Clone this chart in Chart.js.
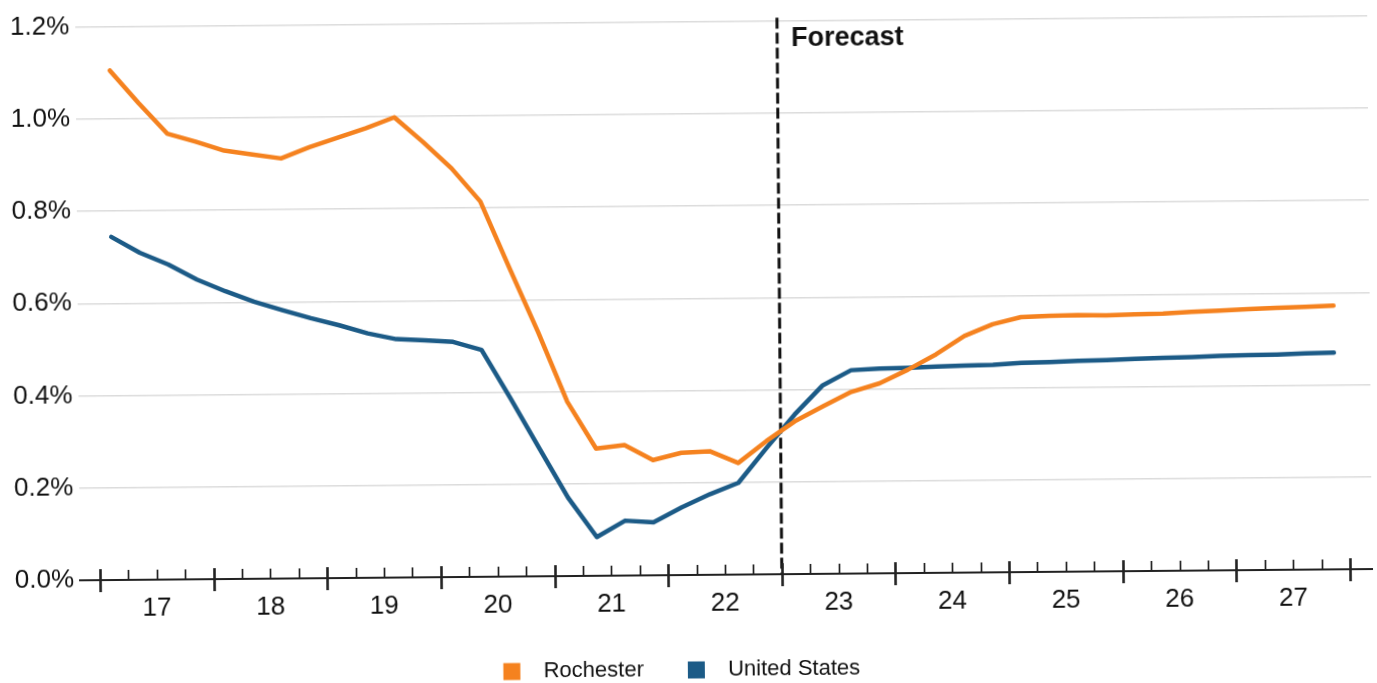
<!DOCTYPE html>
<html>
<head>
<meta charset="utf-8">
<title>Employment growth: Rochester vs United States</title>
<script src="https://cdn.jsdelivr.net/npm/chart.js@4.4.0/dist/chart.umd.min.js"></script>
<style>
  html, body { margin: 0; padding: 0; background: #ffffff; overflow: hidden; }
  #wrap { width: 1377px; height: 683px; transform: rotate(-0.5deg); transform-origin: 50% 50%; }
  canvas { display: block; }
</style>
</head>
<body>
<div id="wrap"><canvas id="chart" width="1377" height="683"></canvas></div>
<script>
// Quarterly series, 2017 Q1 through 2027 Q4 (percent)
const years = [2017, 2018, 2019, 2020, 2021, 2022, 2023, 2024, 2025, 2026, 2027];
const quarters = ['Q1', 'Q2', 'Q3', 'Q4'];

const rochester = [
  1.105, 1.034, 0.967, 0.949,
  0.929, 0.920, 0.911, 0.935,
  0.955, 0.975, 0.998, 0.944,
  0.886, 0.814, 0.670, 0.529,
  0.378, 0.276, 0.283, 0.250,
  0.265, 0.268, 0.242, 0.289,
  0.331, 0.363, 0.394, 0.412,
  0.441, 0.474, 0.513, 0.538,
  0.553, 0.555, 0.556, 0.555,
  0.557, 0.558, 0.561, 0.563,
  0.566, 0.568, 0.570, 0.572
];

const unitedStates = [
  0.744, 0.709, 0.683, 0.650,
  0.624, 0.601, 0.582, 0.564,
  0.548, 0.530, 0.517, 0.514,
  0.510, 0.492, 0.387, 0.278,
  0.170, 0.084, 0.119, 0.115,
  0.147, 0.175, 0.199, 0.274,
  0.346, 0.409, 0.441, 0.444,
  0.445, 0.447, 0.449, 0.450,
  0.454, 0.455, 0.457, 0.458,
  0.460, 0.462, 0.463, 0.465,
  0.466, 0.467, 0.469, 0.470
];

const seriesNames = ['Rochester', 'United States'];
const seriesColors = ['#F5821F', '#1C5B87'];
const yTicks = [0, 0.2, 0.4, 0.6, 0.8, 1.0, 1.2];
const forecastStart = 2023;
const forecastLabel = 'Forecast';

// Each quarter sits in the middle of its quarter-year span on a continuous year axis
const quarterX = years.flatMap(y => quarters.map((q, i) => y + (i + 0.5) / 4));
const quarterEdges = years.flatMap(y => quarters.map((q, i) => ({ v: y + i / 4, major: i === 0 })))
  .concat([{ v: years[years.length - 1] + 1, major: true }]);
const toPoints = vals => vals.map((v, i) => ({ x: quarterX[i], y: v }));

const FONT = '"Liberation Sans", Arial, Helvetica, sans-serif';
const TEXT = '#111111';

// Forecast divider and quarter/year tick marks along the time axis
const axisMarks = {
  id: 'axisMarks',
  beforeDatasetsDraw(chart) {
    const { ctx, chartArea, scales: { x } } = chart;
    const px = x.getPixelForValue(forecastStart);
    ctx.save();
    ctx.strokeStyle = '#111111';
    ctx.lineWidth = 3;
    ctx.setLineDash([11, 4]);
    ctx.beginPath();
    ctx.moveTo(px, chartArea.top - 3);
    ctx.lineTo(px, chartArea.bottom);
    ctx.stroke();
    ctx.setLineDash([]);
    ctx.fillStyle = TEXT;
    ctx.font = 'bold 27px ' + FONT;
    ctx.textAlign = 'left';
    ctx.textBaseline = 'alphabetic';
    ctx.fillText(forecastLabel, px + 14, chartArea.top + 25);
    ctx.restore();
  },
  afterDraw(chart) {
    const { ctx, chartArea, scales: { x } } = chart;
    const y0 = chartArea.bottom;
    ctx.save();
    ctx.strokeStyle = '#222222';
    quarterEdges.forEach(e => {
      const px = Math.round(x.getPixelForValue(e.v)) + 0.5;
      ctx.lineWidth = e.major ? 2.6 : 1.7;
      ctx.beginPath();
      if (e.major) { ctx.moveTo(px, y0 - 11); ctx.lineTo(px, y0 + 12); }
      else { ctx.moveTo(px, y0 - 10); ctx.lineTo(px, y0); }
      ctx.stroke();
    });
    ctx.restore();
  }
};

new Chart(document.getElementById('chart'), {
  type: 'line',
  data: {
    datasets: [
      { label: seriesNames[0], data: toPoints(rochester), borderColor: seriesColors[0], backgroundColor: seriesColors[0] },
      { label: seriesNames[1], data: toPoints(unitedStates), borderColor: seriesColors[1], backgroundColor: seriesColors[1] }
    ]
  },
  options: {
    responsive: false,
    devicePixelRatio: 1,
    animation: false,
    elements: {
      line: { borderWidth: 4.5, tension: 0, borderJoinStyle: 'round', borderCapStyle: 'round' },
      point: { radius: 0, hoverRadius: 0 }
    },
    layout: { padding: { top: 16, right: 7, bottom: -8, left: 0 } },
    plugins: {
      tooltip: { enabled: false },
      legend: {
        position: 'bottom',
        labels: {
          font: { family: FONT, size: 22 },
          color: TEXT,
          boxWidth: 17,
          boxHeight: 17,
          padding: 44,
          generateLabels: chart => chart.data.datasets.map((ds, i) => ({
            text: '  ' + ds.label + (i === chart.data.datasets.length - 1 ? '  ' : ''),
            fillStyle: ds.borderColor,
            strokeStyle: ds.borderColor,
            lineWidth: 0,
            fontColor: TEXT,
            datasetIndex: i
          }))
        }
      }
    },
    scales: {
      x: {
        type: 'linear',
        min: 2016.824,
        max: 2028.194,
        afterFit: s => { s.height = 40; },
        afterBuildTicks: s => { s.ticks = years.map(y => ({ value: y + 0.5 })); },
        grid: { display: false, drawTicks: false },
        border: { display: true, color: '#222222', width: 2 },
        ticks: {
          padding: 13,
          autoSkip: false,
          maxRotation: 0,
          color: TEXT,
          font: { family: FONT, size: 26 },
          callback: v => String(Math.floor(v)).slice(2)
        }
      },
      y: {
        min: 0,
        max: 1.2,
        afterFit: s => { s.width = 78; },
        afterBuildTicks: s => { s.ticks = yTicks.map(v => ({ value: v })); },
        grid: { color: '#dcdcdc', lineWidth: 1.5, drawTicks: false },
        border: { display: false },
        ticks: {
          padding: 6,
          color: TEXT,
          font: { family: FONT, size: 26 },
          callback: v => v.toFixed(1) + '%'
        }
      }
    }
  },
  plugins: [axisMarks]
});
</script>
</body>
</html>
